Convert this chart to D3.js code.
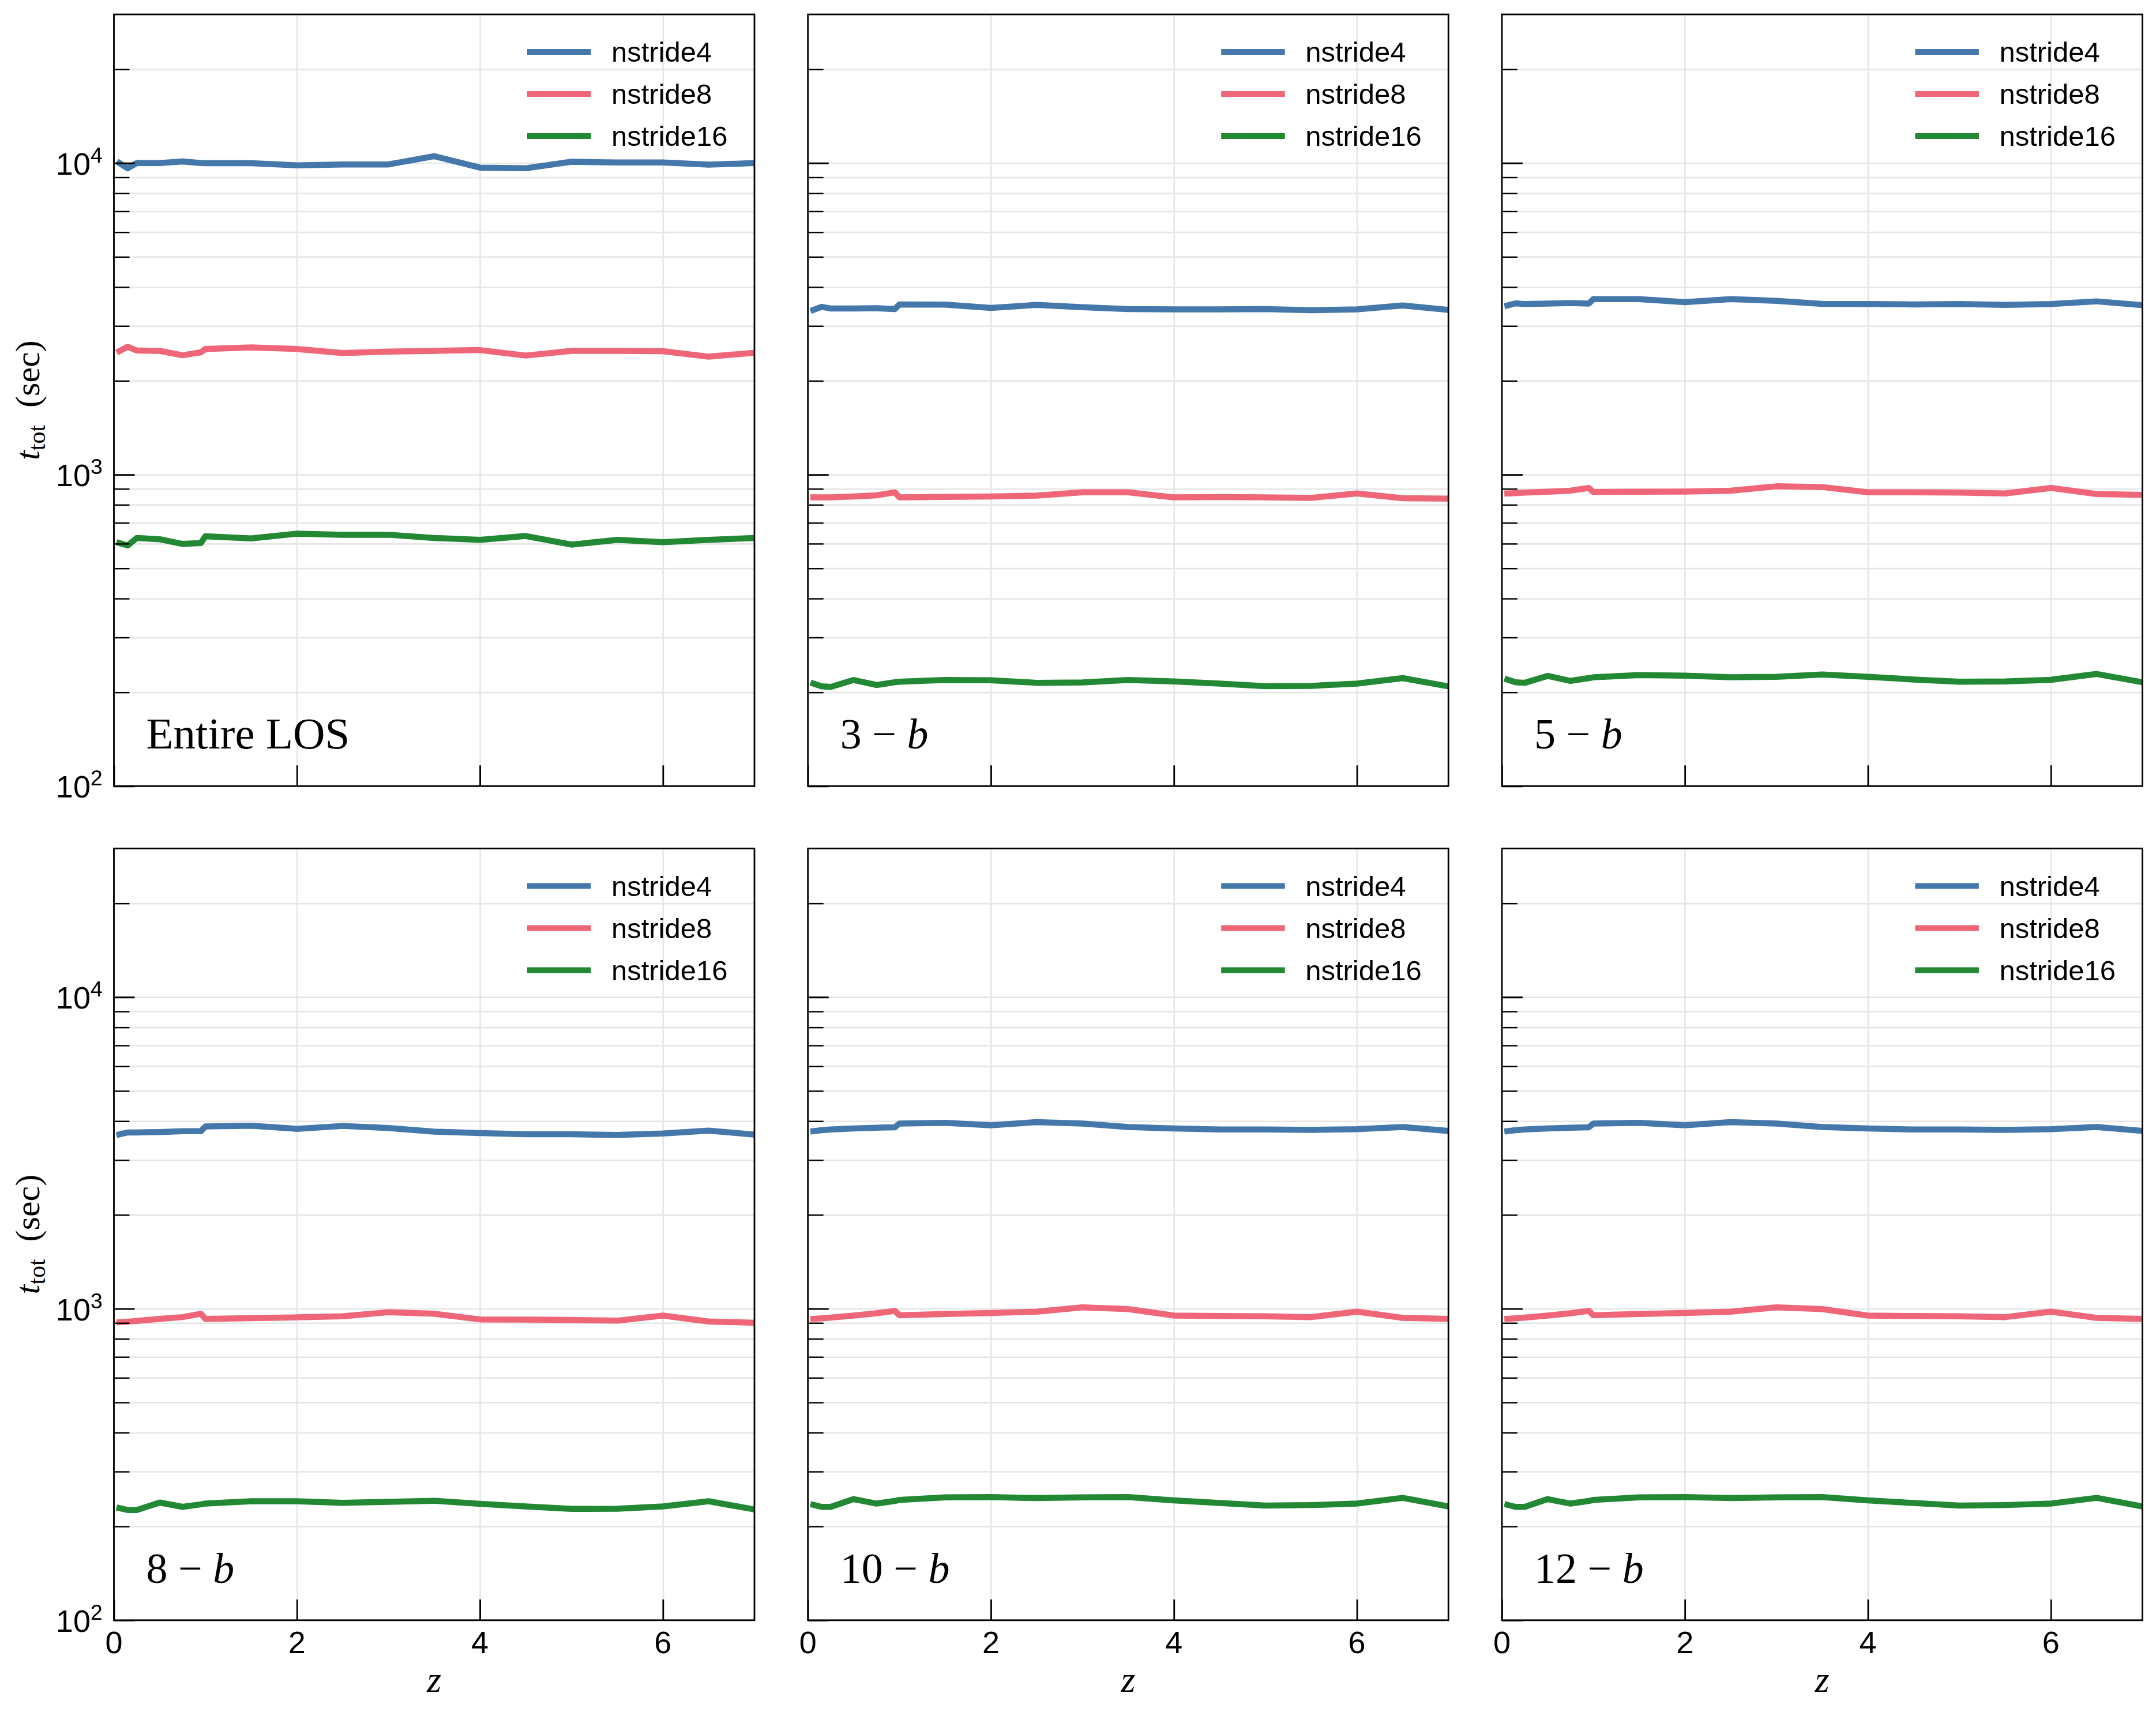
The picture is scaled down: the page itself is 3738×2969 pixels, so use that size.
<!DOCTYPE html>
<html><head><meta charset="utf-8">
<script src="https://cdn.jsdelivr.net/npm/d3@7"></script>
<style>body{margin:0;background:#fff}svg{display:block}</style>
</head><body>
<svg id="chart" width="3738" height="2969"></svg>
<script>
// ---------------- data ----------------
const zValues = [0.06, 0.15, 0.25, 0.5, 0.75, 0.95, 1.0, 1.5, 2, 2.5, 3, 3.5, 4, 4.5, 5, 5.5, 6, 6.5, 7];
const seriesNames = ["nstride4", "nstride8", "nstride16"];
const seriesColors = ["#4477AA", "#EE6677", "#228833"];
const panelLabels = ["Entire LOS", "3", "5", "8", "10", "12"]; // numbers followed by " − b"
const yMajorTicks = [100, 1000, 10000];
const yMajorExponents = ["2", "3", "4"];
const xTickValues = [0, 2, 4, 6];
const xTickLabels = ["0", "2", "4", "6"];

const entireNstride4  = [10000, 9620, 10000, 10000, 10120, 10000, 9990, 9990, 9830, 9900, 9900, 10520, 9670, 9620, 10100, 10040, 10040, 9880, 10000];
const entireNstride8  = [2490, 2571, 2502, 2495, 2416, 2469, 2530, 2559, 2530, 2456, 2483, 2495, 2510, 2410, 2495, 2495, 2490, 2390, 2461];
const entireNstride16 = [603, 592, 626, 620, 599, 603, 634, 624, 646, 641, 641, 626, 617, 635, 596, 617, 607, 617, 626];

const b3Nstride4  = [3377, 3454, 3412, 3412, 3419, 3398, 3518, 3511, 3426, 3504, 3447, 3398, 3391, 3391, 3398, 3370, 3391, 3490, 3377];
const b3Nstride8  = [845, 845, 845, 851, 858, 877, 845, 848, 851, 856, 877, 877, 845, 847, 845, 842, 870, 840, 837];
const b3Nstride16 = [213.3, 209.0, 208.2, 219.1, 211.1, 215.5, 216.4, 219.1, 218.6, 214.6, 215.1, 219.1, 216.8, 213.3, 209.4, 209.8, 213.3, 222.2, 209.0];

const b5Nstride4  = [3490, 3547, 3526, 3540, 3554, 3540, 3657, 3657, 3576, 3657, 3613, 3533, 3526, 3518, 3526, 3504, 3526, 3598, 3498];
const b5Nstride8  = [870, 872, 875, 881, 888, 906, 879, 881, 882, 888, 917, 912, 877, 877, 875, 870, 906, 866, 861];
const b5Nstride16 = [219.9, 215.5, 214.6, 225.8, 217.7, 222.2, 223.5, 227.2, 226.3, 223.5, 224.4, 228.1, 224.4, 219.9, 216.3, 216.8, 219.4, 229.1, 215.5];

const b8Nstride4  = [3626, 3679, 3679, 3690, 3713, 3713, 3845, 3866, 3778, 3860, 3800, 3700, 3660, 3630, 3630, 3610, 3650, 3730, 3620];
const b8Nstride8  = [904.7, 908.2, 913.4, 927.4, 939.7, 963.2, 927.4, 932.7, 937.9, 945, 974.3, 963.2, 923.8, 922, 920.4, 915.1, 950.5, 909.9, 901.3];
const b8Nstride16 = [228.9, 225.8, 225.8, 238.6, 231.1, 235.5, 236.8, 240.9, 240.9, 238.2, 240.0, 241.8, 236.4, 231.9, 227.6, 228.0, 231.9, 240.9, 226.7];

const b10Nstride4  = [3715, 3740, 3760, 3790, 3810, 3820, 3930, 3950, 3880, 3970, 3930, 3830, 3790, 3760, 3760, 3750, 3770, 3830, 3720];
const b10Nstride8  = [927.4, 930.9, 936.2, 950.5, 966.9, 983.6, 952.3, 961.4, 968.7, 977.9, 1010, 996.8, 950.5, 946.9, 945, 939.7, 977.9, 934.4, 927.4];
const b10Nstride16 = [234.6, 231.1, 231.1, 244.7, 236.8, 241.4, 243.3, 248.0, 248.4, 246.6, 248.0, 248.4, 242.4, 237.8, 233.3, 234.2, 236.8, 247.0, 231.9];

const b12Nstride4  = [3715, 3740, 3760, 3790, 3810, 3820, 3930, 3950, 3880, 3970, 3930, 3830, 3790, 3760, 3760, 3750, 3770, 3830, 3720];
const b12Nstride8  = [927.4, 930.9, 936.2, 950.5, 966.9, 983.6, 952.3, 961.4, 968.7, 977.9, 1010, 996.8, 950.5, 946.9, 945, 939.7, 977.9, 934.4, 927.4];
const b12Nstride16 = [234.6, 231.1, 231.1, 244.7, 236.8, 241.4, 243.3, 248.0, 248.4, 246.6, 248.0, 248.4, 242.4, 237.8, 233.3, 234.2, 236.8, 247.0, 231.9];

const panelSeries = [
  [entireNstride4, entireNstride8, entireNstride16],
  [b3Nstride4, b3Nstride8, b3Nstride16],
  [b5Nstride4, b5Nstride8, b5Nstride16],
  [b8Nstride4, b8Nstride8, b8Nstride16],
  [b10Nstride4, b10Nstride8, b10Nstride16],
  [b12Nstride4, b12Nstride8, b12Nstride16]
];

// ---------------- layout ----------------
const colX = [197.5, 1400.7, 2603.9];
const rowY = [25, 1471.5];
const PW = 1110.5, PH = 1338.3;
const SANS = "'Liberation Sans', Arial, Helvetica, sans-serif";
const SERIF = "'Liberation Serif', 'Times New Roman', serif";
const GRID = "#e6e6e6";

const svg = d3.select("#chart");
svg.append("rect").attr("width", 3738).attr("height", 2969).attr("fill", "#fff");
const defs = svg.append("defs");

const minorTicks = [];
[100, 1000, 10000].forEach(d => { for (let k = 2; k <= 9; k++) if (d * k < 30000) minorTicks.push(d * k); });

panelSeries.forEach((series, i) => {
  const row = Math.floor(i / 3), col = i % 3;
  const L = colX[col], T = rowY[row];
  const x = d3.scaleLinear().domain([0, 7]).range([L, L + PW]);
  const y = d3.scaleLog().domain([100, 30000]).range([T + PH, T]);
  const g = svg.append("g");

  // grid lines
  g.append("g").attr("transform", `translate(${L},0)`)
    .call(d3.axisLeft(y).tickValues(yMajorTicks.concat(minorTicks)).tickSize(-PW).tickFormat(""))
    .call(s => { s.select(".domain").remove(); s.selectAll("line").attr("stroke", GRID).attr("stroke-width", 2.6); });
  g.append("g").attr("transform", `translate(0,${T + PH})`)
    .call(d3.axisBottom(x).tickValues(xTickValues).tickSize(-PH).tickFormat(""))
    .call(s => { s.select(".domain").remove(); s.selectAll("line").attr("stroke", GRID).attr("stroke-width", 2.6); });

  // clip
  const cid = "clip" + i;
  defs.append("clipPath").attr("id", cid).append("rect").attr("x", L).attr("y", T).attr("width", PW).attr("height", PH);

  const line = d3.line().x((d, k) => x(zValues[k])).y(d => y(d));
  series.forEach((vals, s) => {
    g.append("path").attr("d", line(vals)).attr("fill", "none")
      .attr("stroke", seriesColors[s]).attr("stroke-width", 10.5)
      .attr("stroke-linejoin", "round").attr("stroke-linecap", "square")
      .attr("clip-path", `url(#${cid})`);
  });

  // frame
  g.append("rect").attr("x", L).attr("y", T).attr("width", PW).attr("height", PH)
    .attr("fill", "none").attr("stroke", "#000").attr("stroke-width", 2.8);

  // ticks (inward)
  g.append("g").attr("transform", `translate(${L},0)`)
    .call(d3.axisLeft(y).tickValues(yMajorTicks).tickSize(-36).tickFormat(""))
    .call(s => { s.select(".domain").remove(); s.selectAll("line").attr("stroke", "#000").attr("stroke-width", 2.8); });
  g.append("g").attr("transform", `translate(${L},0)`)
    .call(d3.axisLeft(y).tickValues(minorTicks).tickSize(-27).tickFormat(""))
    .call(s => { s.select(".domain").remove(); s.selectAll("line").attr("stroke", "#000").attr("stroke-width", 2.4); });
  g.append("g").attr("transform", `translate(0,${T + PH})`)
    .call(d3.axisBottom(x).tickValues(xTickValues).tickSize(-36).tickFormat(""))
    .call(s => { s.select(".domain").remove(); s.selectAll("line").attr("stroke", "#000").attr("stroke-width", 2.8); });

  // y tick labels
  if (col === 0) {
    yMajorTicks.forEach((v, k) => {
      const t = g.append("text").attr("x", L - 20).attr("y", y(v) + 20)
        .attr("text-anchor", "end").attr("font-family", SANS).attr("font-size", 54).attr("fill", "#000");
      t.append("tspan").text("10");
      t.append("tspan").attr("dy", -21).attr("font-size", 37).text(yMajorExponents[k]);
    });
    // y axis label
    const yl = g.append("text")
      .attr("transform", `translate(68,${T + PH / 2}) rotate(-90)`)
      .attr("text-anchor", "middle").attr("font-family", SERIF).attr("font-size", 60).attr("fill", "#000");
    yl.append("tspan").attr("font-style", "italic").text("t");
    yl.append("tspan").attr("font-size", 42).attr("dy", 10).text("tot");
    yl.append("tspan").attr("dy", -10).text("\u2002(sec)");
  }
  // x tick labels + label
  if (row === 1) {
    xTickValues.forEach((v, k) => {
      g.append("text").attr("x", x(v)).attr("y", T + PH + 57)
        .attr("text-anchor", "middle").attr("font-family", SANS).attr("font-size", 54).attr("fill", "#000")
        .text(xTickLabels[k]);
    });
    g.append("text").attr("x", L + PW / 2).attr("y", 2934)
      .attr("text-anchor", "middle").attr("font-family", SERIF).attr("font-style", "italic")
      .attr("font-size", 64).attr("fill", "#000").text("z");
  }

  // panel label
  const pl = g.append("text").attr("x", L + 56).attr("y", T + 1273)
    .attr("font-family", SERIF).attr("fill", "#000");
  if (i === 0) {
    pl.attr("font-size", 77).text(panelLabels[i]);
  } else {
    pl.attr("font-size", 74);
    pl.append("tspan").text(panelLabels[i] + " \u2212 ");
    pl.append("tspan").attr("font-style", "italic").text("b");
  }

  // legend
  seriesNames.forEach((name, s) => {
    const ly = T + 65 + s * 73;
    g.append("line").attr("x1", L + 721.5).attr("x2", L + 822).attr("y1", ly).attr("y2", ly)
      .attr("stroke", seriesColors[s]).attr("stroke-width", 10).attr("stroke-linecap", "square");
    g.append("text").attr("x", L + 862.5).attr("y", ly + 17)
      .attr("font-family", SANS).attr("font-size", 49).attr("fill", "#000").text(name);
  });
});
</script>
</body></html>
